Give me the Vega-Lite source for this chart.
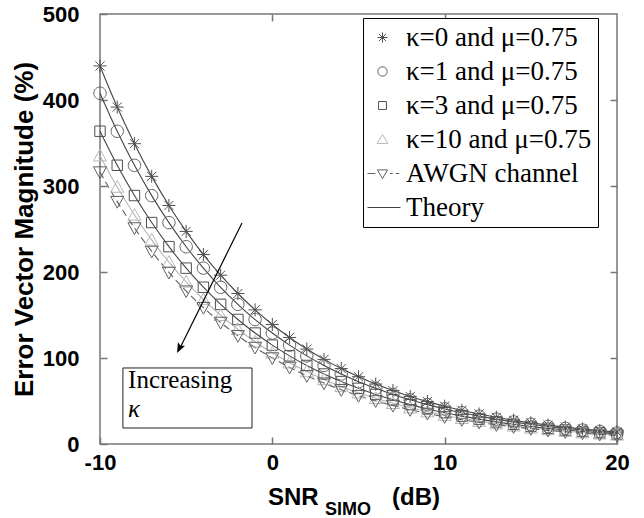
{
  "$schema": "https://vega.github.io/schema/vega-lite/v6.json",
  "width": 517,
  "height": 430,
  "autosize": {"type": "none"},
  "padding": {"left": 100, "top": 14, "right": 27, "bottom": 74},
  "background": "white",
  "config": {
    "view": {"stroke": "#777777", "strokeWidth": 1.5},
    "axis": {
      "domain": false,
      "grid": false,
      "tickColor": "#777777",
      "tickWidth": 1.5,
      "tickSize": -7,
      "labelFlush": false,
      "labelFont": "Liberation Sans",
      "labelFontWeight": "bold",
      "labelFontSize": 22,
      "labelColor": "black",
      "titleFont": "Liberation Sans",
      "titleFontWeight": "bold",
      "titleColor": "black"
    }
  },
  "datasets": {
    "evm": [
      {"snr": -10, "k0": 439.6, "k1": 407.9, "k3": 363.7, "k10": 335.2, "awgn": 316.2},
      {"snr": -9, "k0": 391.8, "k1": 363.6, "k3": 324.1, "k10": 298.8, "awgn": 281.8},
      {"snr": -8, "k0": 349.2, "k1": 324.0, "k3": 288.9, "k10": 266.3, "awgn": 251.2},
      {"snr": -7, "k0": 311.2, "k1": 288.8, "k3": 257.5, "k10": 237.3, "awgn": 223.9},
      {"snr": -6, "k0": 277.4, "k1": 257.4, "k3": 229.5, "k10": 211.5, "awgn": 199.5},
      {"snr": -5, "k0": 247.2, "k1": 229.4, "k3": 204.5, "k10": 188.5, "awgn": 177.8},
      {"snr": -4, "k0": 220.3, "k1": 204.5, "k3": 182.3, "k10": 168.0, "awgn": 158.5},
      {"snr": -3, "k0": 196.3, "k1": 182.2, "k3": 162.4, "k10": 149.7, "awgn": 141.3},
      {"snr": -2, "k0": 175.0, "k1": 162.4, "k3": 144.8, "k10": 133.4, "awgn": 125.9},
      {"snr": -1, "k0": 156.0, "k1": 144.7, "k3": 129.0, "k10": 118.9, "awgn": 112.2},
      {"snr": 0, "k0": 139.0, "k1": 129.0, "k3": 115.0, "k10": 106.0, "awgn": 100.0},
      {"snr": 1, "k0": 123.9, "k1": 115.0, "k3": 102.5, "k10": 94.5, "awgn": 89.1},
      {"snr": 2, "k0": 110.4, "k1": 102.5, "k3": 91.3, "k10": 84.2, "awgn": 79.4},
      {"snr": 3, "k0": 98.4, "k1": 91.3, "k3": 81.4, "k10": 75.0, "awgn": 70.8},
      {"snr": 4, "k0": 87.7, "k1": 81.4, "k3": 72.6, "k10": 66.9, "awgn": 63.1},
      {"snr": 5, "k0": 78.2, "k1": 72.5, "k3": 64.7, "k10": 59.6, "awgn": 56.2},
      {"snr": 6, "k0": 69.7, "k1": 64.7, "k3": 57.6, "k10": 53.1, "awgn": 50.1},
      {"snr": 7, "k0": 62.1, "k1": 57.6, "k3": 51.4, "k10": 47.3, "awgn": 44.7},
      {"snr": 8, "k0": 55.3, "k1": 51.4, "k3": 45.8, "k10": 42.2, "awgn": 39.8},
      {"snr": 9, "k0": 49.3, "k1": 45.8, "k3": 40.8, "k10": 37.6, "awgn": 35.5},
      {"snr": 10, "k0": 44.0, "k1": 40.8, "k3": 36.4, "k10": 33.5, "awgn": 31.6},
      {"snr": 11, "k0": 39.2, "k1": 36.4, "k3": 32.4, "k10": 29.9, "awgn": 28.2},
      {"snr": 12, "k0": 34.9, "k1": 32.4, "k3": 28.9, "k10": 26.6, "awgn": 25.1},
      {"snr": 13, "k0": 31.1, "k1": 28.9, "k3": 25.7, "k10": 23.7, "awgn": 22.4},
      {"snr": 14, "k0": 27.7, "k1": 25.7, "k3": 22.9, "k10": 21.1, "awgn": 20.0},
      {"snr": 15, "k0": 24.7, "k1": 22.9, "k3": 20.4, "k10": 18.8, "awgn": 17.8},
      {"snr": 16, "k0": 22.0, "k1": 20.4, "k3": 18.2, "k10": 16.8, "awgn": 15.8},
      {"snr": 17, "k0": 19.6, "k1": 18.2, "k3": 16.2, "k10": 15.0, "awgn": 14.1},
      {"snr": 18, "k0": 17.5, "k1": 16.2, "k3": 14.5, "k10": 13.3, "awgn": 12.6},
      {"snr": 19, "k0": 15.6, "k1": 14.5, "k3": 12.9, "k10": 11.9, "awgn": 11.2},
      {"snr": 20, "k0": 13.9, "k1": 12.9, "k3": 11.5, "k10": 10.6, "awgn": 10.0}
    ],
    "one": [{}]
  },
  "resolve": {
    "scale": {"color": "independent", "shape": "independent"},
    "axis": {"x": "independent", "y": "independent"}
  },
  "layer": [
    {
      "data": {"name": "evm"},
      "transform": [
        {"fold": ["k0", "k1", "k3", "k10"], "as": ["series", "value"]}
      ],
      "mark": {"type": "line", "strokeWidth": 1.1, "interpolate": "monotone"},
      "encoding": {
        "x": {
          "field": "snr", "type": "quantitative",
          "scale": {"domain": [-10, 20], "nice": false, "zero": false},
          "axis": {"orient": "bottom", "values": [-10, 0, 10, 20], "labelPadding": 15, "labelExpr": "'' + datum.value", "title": null}
        },
        "y": {
          "field": "value", "type": "quantitative",
          "scale": {"domain": [0, 500], "nice": false},
          "axis": {"orient": "left", "values": [0, 100, 200, 300, 400, 500], "labelPadding": 28, "title": "Error Vector Magnitude (%)", "titleFontSize": 26, "titlePadding": 5}
        },
        "detail": {"field": "series", "type": "nominal"},
        "stroke": {
          "field": "series", "type": "nominal", "legend": null,
          "scale": {"domain": ["k0", "k1", "k3", "k10", "awgn"], "range": ["#444444", "#444444", "#444444", "#b5b5b5", "#606060"]}
        }
      }
    },
    {
      "data": {"name": "evm"},
      "mark": {"type": "line", "strokeWidth": 1.1, "interpolate": "monotone", "color": "#606060", "strokeDash": [7, 4]},
      "encoding": {
        "x": {"field": "snr", "type": "quantitative", "axis": null},
        "y": {"field": "awgn", "type": "quantitative", "axis": null}
      }
    },
    {
      "data": {"name": "evm"},
      "transform": [{"fold": ["k0", "k1", "k3", "k10", "awgn"], "as": ["series", "value"]}],
      "mark": {"type": "point", "filled": false, "strokeWidth": 1, "size": 170, "opacity": 1},
      "encoding": {
        "x": {"field": "snr", "type": "quantitative", "axis": null},
        "y": {"field": "value", "type": "quantitative", "axis": null},
        "color": {
          "field": "series", "type": "nominal", "legend": null,
          "scale": {
            "domain": ["k0", "k1", "k3", "k10", "awgn"],
            "range": ["#505050", "#606060", "#505050", "#b8b8b8", "#606060"]
          }
        },
        "shape": {
          "field": "series", "type": "nominal", "legend": null,
          "scale": {
            "domain": ["k0", "k1", "k3", "k10", "awgn"],
            "range": [
              "M0,-1L0,1M-1,0L1,0M-0.7,-0.7L0.7,0.7M-0.7,0.7L0.7,-0.7",
              "M0.95,0A0.95,0.95,0,1,1,-0.95,0A0.95,0.95,0,1,1,0.95,0Z",
              "M-0.8,-0.8H0.8V0.8H-0.8Z",
              "M0,-1L1,0.8L-1,0.8Z",
              "M-1,-0.8L1,-0.8L0,1Z"
            ]
          }
        }
      }
    },
    {
      "data": {"name": "evm"},
      "transform": [{"fold": ["k0", "k1", "k3", "k10", "awgn"], "as": ["series", "value"]}],
      "mark": {"type": "point", "filled": false, "strokeWidth": 1, "opacity": 1, "clip": true},
      "encoding": {
        "x": {"field": "snr", "type": "quantitative", "axis": null},
        "y": {"datum": -1000, "type": "quantitative", "axis": null},
        "color": {
          "field": "series", "type": "nominal",
          "scale": {
            "domain": ["k0", "k1", "k3", "k10", "awgn", "theory"],
            "range": ["#505050", "#606060", "#505050", "#b8b8b8", "#606060", "#444444"]
          },
          "legend": {
            "orient": "none",
            "legendX": 263,
            "legendY": 4,
            "title": null,
            "strokeColor": "black",
            "fillColor": "white",
            "padding": 6,
            "symbolSize": 576,
            "symbolStrokeWidth": 1,
            "rowPadding": 6,
            "labelFont": "Liberation Serif",
            "labelFontSize": 27,
            "labelOffset": 10,
            "labelColor": "black",
            "labelLimit": 400,
            "labelExpr": "{'k0': 'κ=0 and μ=0.75', 'k1': 'κ=1 and μ=0.75', 'k3': 'κ=3 and μ=0.75', 'k10': 'κ=10 and μ=0.75', 'awgn': 'AWGN channel', 'theory': 'Theory'}[datum.value]"
          }
        },
        "shape": {
          "field": "series", "type": "nominal",
          "scale": {
            "domain": ["k0", "k1", "k3", "k10", "awgn", "theory"],
            "range": [
              "M0,-0.42L0,0.42M-0.42,0L0.42,0M-0.3,-0.3L0.3,0.3M-0.3,0.3L0.3,-0.3",
              "M0.39,0A0.39,0.39,0,1,1,-0.39,0A0.39,0.39,0,1,1,0.39,0Z",
              "M-0.33,-0.33H0.33V0.33H-0.33Z",
              "M0,-0.42L0.45,0.33L-0.45,0.33Z",
              "M-1.25,0L-0.6,0M-0.42,-0.3L0.42,-0.3L0,0.42ZM0.62,0L0.85,0M1.1,0L1.4,0",
              "M-1.25,0L1.5,0"
            ]
          },
          "legend": {
            "orient": "none",
            "legendX": 263,
            "legendY": 4,
            "title": null,
            "strokeColor": "black",
            "fillColor": "white",
            "padding": 6,
            "symbolSize": 576,
            "symbolStrokeWidth": 1,
            "rowPadding": 6,
            "labelFont": "Liberation Serif",
            "labelFontSize": 27,
            "labelOffset": 10,
            "labelColor": "black",
            "labelLimit": 400,
            "labelExpr": "{'k0': 'κ=0 and μ=0.75', 'k1': 'κ=1 and μ=0.75', 'k3': 'κ=3 and μ=0.75', 'k10': 'κ=10 and μ=0.75', 'awgn': 'AWGN channel', 'theory': 'Theory'}[datum.value]"
          }
        }
      }
    },
    {
      "data": {"name": "one"},
      "mark": {"type": "rect", "fill": "white", "stroke": "#222222", "strokeWidth": 1},
      "encoding": {
        "x": {"datum": -8.67, "type": "quantitative", "axis": null},
        "x2": {"datum": -1.18},
        "y": {"datum": 18.6, "type": "quantitative", "axis": null},
        "y2": {"datum": 88.4}
      }
    },
    {
      "data": {"name": "one"},
      "mark": {"type": "text", "font": "Liberation Serif", "fontSize": 25, "align": "left", "baseline": "alphabetic", "color": "black"},
      "encoding": {
        "x": {"datum": -8.37, "type": "quantitative", "axis": null},
        "y": {"datum": 65.1, "type": "quantitative", "axis": null},
        "text": {"value": "Increasing"}
      }
    },
    {
      "data": {"name": "one"},
      "mark": {"type": "text", "font": "Liberation Serif", "fontStyle": "italic", "fontSize": 25, "align": "left", "baseline": "alphabetic", "color": "black"},
      "encoding": {
        "x": {"datum": -8.37, "type": "quantitative", "axis": null},
        "y": {"datum": 31.4, "type": "quantitative", "axis": null},
        "text": {"value": "κ"}
      }
    },
    {
      "data": {"name": "one"},
      "mark": {"type": "rule", "color": "black", "strokeWidth": 1.2},
      "encoding": {
        "x": {"datum": -1.76, "type": "quantitative", "axis": null},
        "y": {"datum": 257, "type": "quantitative", "axis": null},
        "x2": {"datum": -5.4},
        "y2": {"datum": 110}
      }
    },
    {
      "data": {"name": "one"},
      "mark": {"type": "point", "filled": true, "color": "black", "opacity": 1, "size": 400, "angle": 206.6, "shape": "M0,0L-0.4,1L0,0.8L0.4,1Z"},
      "encoding": {
        "x": {"datum": -5.53, "type": "quantitative", "axis": null},
        "y": {"datum": 105.8, "type": "quantitative", "axis": null}
      }
    },
    {
      "data": {"name": "one"},
      "mark": {"type": "text", "font": "Liberation Sans", "fontWeight": "bold", "fontSize": 24, "align": "left", "baseline": "alphabetic", "color": "black"},
      "encoding": {
        "x": {"datum": -0.25, "type": "quantitative", "axis": null},
        "y": {"datum": -70.9, "type": "quantitative", "axis": null},
        "text": {"value": "SNR"}
      }
    },
    {
      "data": {"name": "one"},
      "mark": {"type": "text", "font": "Liberation Sans", "fontWeight": "bold", "fontSize": 18, "align": "left", "baseline": "alphabetic", "color": "black"},
      "encoding": {
        "x": {"datum": 3.06, "type": "quantitative", "axis": null},
        "y": {"datum": -82.6, "type": "quantitative", "axis": null},
        "text": {"value": "SIMO"}
      }
    },
    {
      "data": {"name": "one"},
      "mark": {"type": "text", "font": "Liberation Sans", "fontWeight": "bold", "fontSize": 24, "align": "left", "baseline": "alphabetic", "color": "black"},
      "encoding": {
        "x": {"datum": 6.95, "type": "quantitative", "axis": null},
        "y": {"datum": -70.9, "type": "quantitative", "axis": null},
        "text": {"value": "(dB)"}
      }
    },
    {
      "data": {"name": "one"},
      "mark": {"type": "point", "opacity": 0},
      "encoding": {
        "x": {"datum": -10, "type": "quantitative", "axis": {"orient": "top", "values": [0, 10], "labels": false, "title": null}},
        "y": {"datum": 0, "type": "quantitative", "axis": {"orient": "right", "values": [100, 200, 300, 400], "labels": false, "title": null}}
      }
    }
  ]
}
